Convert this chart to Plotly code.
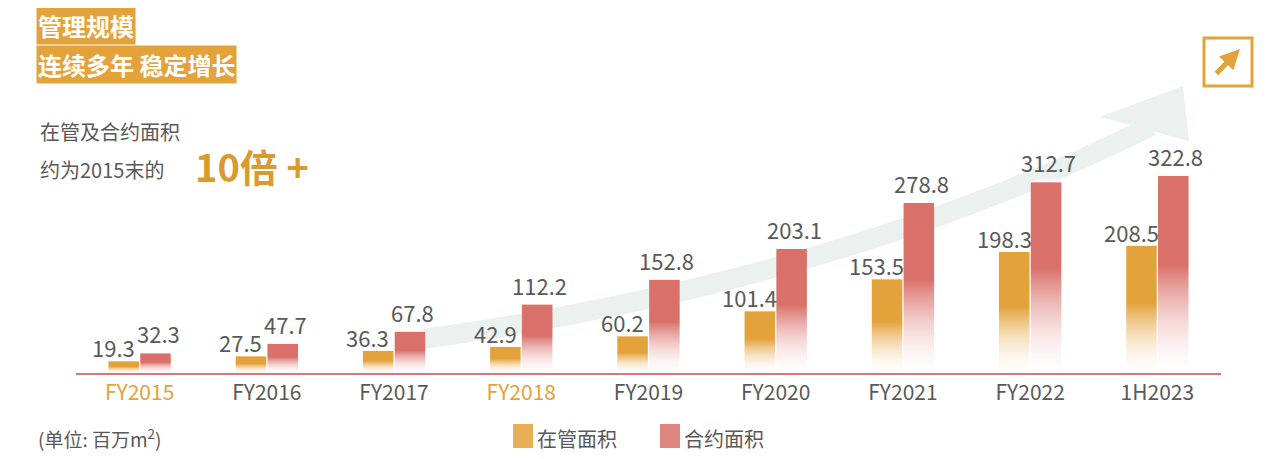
import plotly.graph_objects as go

categories = ["FY2015", "FY2016", "FY2017", "FY2018", "FY2019", "FY2020", "FY2021", "FY2022", "1H2023"]
managed = [19.3, 27.5, 36.3, 42.9, 60.2, 101.4, 153.5, 198.3, 208.5]
contracted = [32.3, 47.7, 67.8, 112.2, 152.8, 203.1, 278.8, 312.7, 322.8]

ORANGE = "#e3a23a"
RED = "#d9706a"
GREY = "#595959"

W, H = 1276, 459
L, R, T, B = 68, 63, 60, 94
YMAX = 500


def px(x):
    return (x - L) / (W - L - R)


def py(y):
    return (H - B - y) / (H - T - B)


fig = go.Figure()

half = 0.12
off = 0.125


def bar(xc, v, color):
    fig.add_trace(go.Scatter(
        x=[xc - half, xc + half, xc + half, xc - half, xc - half],
        y=[0, 0, v, v, 0], mode="lines", fill="toself", line=dict(width=0),
        fillgradient=dict(type="vertical",
                          colorscale=[[0, "rgba(255,255,255,0.2)"], [0.55, color], [1, color]]),
        hoverinfo="skip", showlegend=False))
    # top cap
    fig.add_trace(go.Scatter(
        x=[xc - half, xc + half, xc + half - 0.03, xc - half + 0.03, xc - half],
        y=[v, v, v + 5, v + 5, v], mode="lines", fill="toself",
        line=dict(width=0), fillcolor="rgba(255,255,255,0.55)",
        hoverinfo="skip", showlegend=False))


# growth arrow behind the bars
fig.add_shape(type="path", xref="x", yref="y", layer="below",
              path="M 2.2 55 Q 5.5 150 7.95 405",
              line=dict(color="#eaf1ef", width=20))
fig.add_shape(type="path", xref="x", yref="y", layer="below",
              path="M 7.55 420 L 8.2 470 L 8.25 380 Z",
              fillcolor="#eaf1ef", line=dict(width=0))

for i, (m, c) in enumerate(zip(managed, contracted)):
    bar(i - off, m, ORANGE)
    bar(i + off, c, RED)
    fig.add_annotation(x=i - off - 0.08, y=m, text=f"{m}", showarrow=False, yanchor="bottom",
                       font=dict(size=22, color=GREY), yshift=-4)
    fig.add_annotation(x=i + off + 0.02, y=c, text=f"{c}", showarrow=False, yanchor="bottom",
                       font=dict(size=22, color=GREY), yshift=2)

tick_text = [f"<span style='color:{ORANGE}'>{c}</span>" if c in ("FY2015", "FY2018") else c
             for c in categories]

fig.update_layout(
    width=W, height=H, margin=dict(l=L, r=R, t=T, b=B),
    plot_bgcolor="white", paper_bgcolor="white",
    font=dict(family="Noto Sans CJK SC, Roboto, sans-serif", color=GREY),
    xaxis=dict(range=[-0.5, 8.5], tickvals=list(range(len(categories))), ticktext=tick_text,
               tickfont=dict(size=21, color=GREY), showgrid=False, zeroline=False,
               showline=True, linecolor="#d77a72", linewidth=2, ticks=""),
    yaxis=dict(range=[0, YMAX], visible=False),
)

# titles
fig.add_annotation(xref="paper", yref="paper", x=px(28), y=py(18), xanchor="left", yanchor="middle",
                   text="<b>管理规模</b>", showarrow=False, bgcolor=ORANGE,
                   font=dict(size=24, color="white"), borderpad=1)
fig.add_annotation(xref="paper", yref="paper", x=px(28), y=py(57), xanchor="left", yanchor="middle",
                   text="<b>连续多年 稳定增长</b>", showarrow=False, bgcolor=ORANGE,
                   font=dict(size=24, color="white"), borderpad=1)
fig.add_annotation(xref="paper", yref="paper", x=px(30), y=py(123), xanchor="left", yanchor="middle",
                   text="在管及合约面积", showarrow=False, font=dict(size=20, color=GREY))
fig.add_annotation(xref="paper", yref="paper", x=px(30), y=py(161), xanchor="left", yanchor="middle",
                   text="约为2015末的", showarrow=False, font=dict(size=20, color=GREY))
fig.add_annotation(xref="paper", yref="paper", x=px(185), y=py(157), xanchor="left", yanchor="middle",
                   text="<b>10倍 +</b>", showarrow=False, font=dict(size=38, color="#d99a30"))

# unit + legend
fig.add_annotation(xref="paper", yref="paper", x=px(28), y=py(430), xanchor="left", yanchor="middle",
                   text="(单位: 百万m<sup>2</sup>)", showarrow=False, font=dict(size=19, color=GREY))
for x0, col, label in [(505, ORANGE, "在管面积"), (652, RED, "合约面积")]:
    fig.add_shape(type="rect", xref="paper", yref="paper", x0=px(x0), x1=px(x0 + 20),
                  y0=py(440), y1=py(416), line=dict(width=0),
                  fillcolor=col, opacity=0.85)
    fig.add_annotation(xref="paper", yref="paper", x=px(x0 + 22), y=py(430), xanchor="left",
                       yanchor="middle", text=label, showarrow=False, font=dict(size=20, color=GREY))

# icon top right
fig.add_shape(type="rect", xref="paper", yref="paper", x0=px(1196), x1=px(1244), y0=py(78), y1=py(30),
              line=dict(color=ORANGE, width=3), fillcolor="white")
fig.add_annotation(xref="paper", yref="paper", x=px(1232), y=py(41), ax=-25, ay=26,
                   showarrow=True, arrowhead=2, arrowsize=0.8,
                   arrowwidth=5, arrowcolor=ORANGE, text="")

fig.write_html("out.html")
